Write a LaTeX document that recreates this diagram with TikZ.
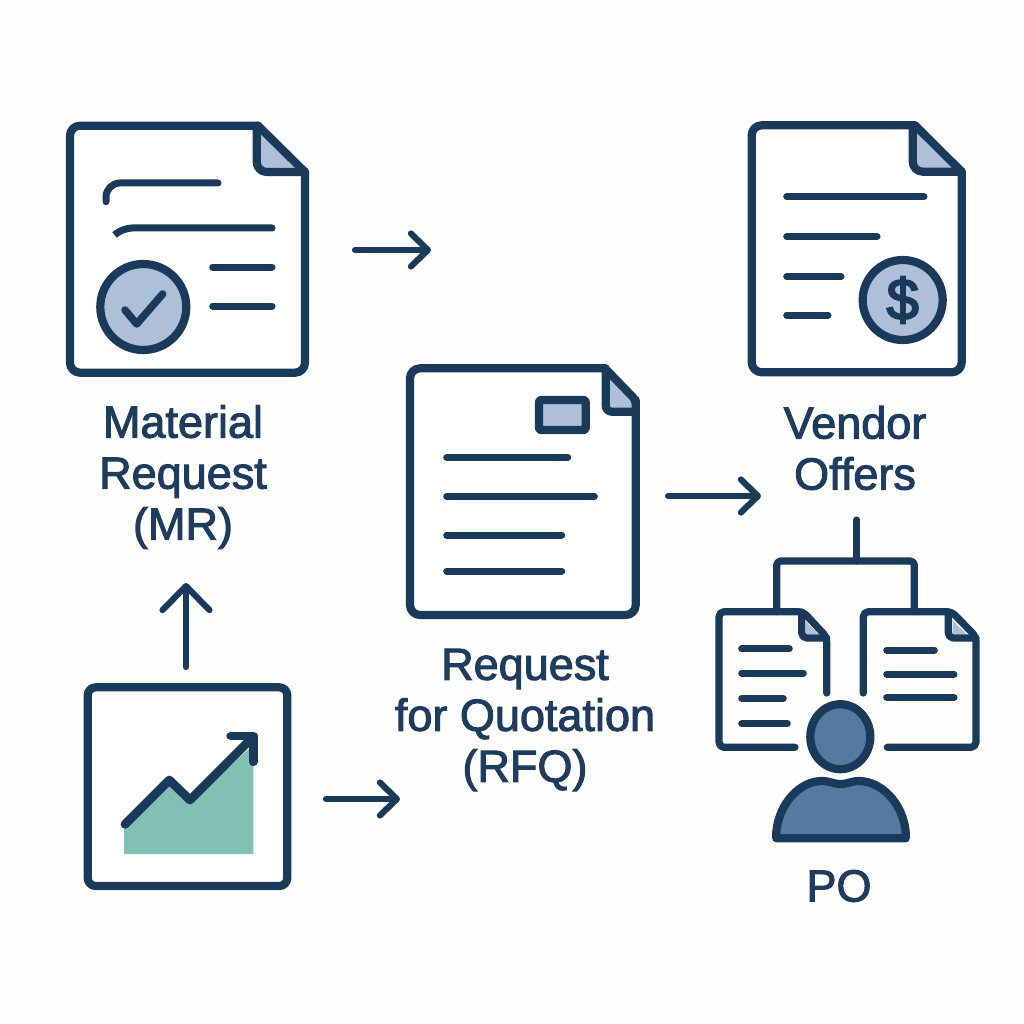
\documentclass[tikz,border=0pt]{standalone}
\usepackage{fontspec}
\setmainfont[FakeBold=2.2]{Liberation Sans}
\newfontfamily\dollarfont[FakeBold=3.5]{Liberation Sans}
\usetikzlibrary{arrows.meta}
\definecolor{ink}{HTML}{1A3A5C}
\definecolor{txt}{HTML}{1D3C60}
\definecolor{pale}{HTML}{AEC0D8}
\definecolor{teal}{HTML}{83C0B4}
\definecolor{slate}{HTML}{557A9F}
\definecolor{paper}{HTML}{FEFEFC}
\tikzset{
  x=1pt,y=-1pt,
  outline/.style={draw=ink,line width=8.2pt,line join=round,line cap=round},
  rule/.style={draw=ink,line width=7pt,line cap=round},
  thin outline/.style={draw=ink,line width=7.2pt,line join=round,line cap=round},
  flow/.style={draw=ink,line width=6.2pt,line cap=round},
  small tip/.style={-{Straight Barb[length=17pt,width=33pt,line cap=round,round,line width=6.2pt]}},
  large tip/.style={-{Straight Barb[length=24pt,width=47pt,line cap=round,round,line width=6.2pt]}},
  label/.style={text=txt,align=center,font=\fontsize{45}{51}\selectfont},
}
\begin{document}
\begin{tikzpicture}
\useasboundingbox (0,0) rectangle (1024,1024);
\fill[paper] (0,0) rectangle (1024,1024);

% Material Request document
\path[fill=white,outline,rounded corners=10pt] (258,125.7) -- (70,125.7) -- (70,372.7) -- (305,372.7) -- (305,172);
\path[fill=pale] (258,125.7) -- (305,172) -- (258,172) -- cycle;
\draw[outline] (258,125.7) -- (305,172);
\draw[outline,rounded corners=10pt] (305,172) -- (256.7,172) -- (256.7,125.7);
\draw[rule,rounded corners=14pt] (106,201.7) -- (106,183) -- (218,183);
\draw[rule,rounded corners=10pt] (116.7,233) -- (122,228) -- (272,228);
\draw[rule] (212.7,267) -- (272,267);
\draw[rule] (212.7,306) -- (272,306);
\path[fill=pale,outline] (143.3,307) circle[radius=43];
\draw[rule,line join=round,line width=7.5pt] (125,310) -- (136.7,324) -- (162.7,294);

% Vendor Offers document
\path[fill=white,outline,rounded corners=10pt] (915,125.3) -- (751.7,125.3) -- (751.7,372.3) -- (961.7,372.3) -- (961.7,171.7);
\path[fill=pale] (915,125.3) -- (961.7,171.7) -- (912.7,171.7) -- (912.7,125.3) -- cycle;
\draw[outline] (915,125.3) -- (961.7,171.7);
\draw[outline,rounded corners=10pt] (961.7,171.7) -- (912.7,171.7) -- (912.7,125.3);
\draw[rule] (786.7,196.7) -- (924,196.7);
\draw[rule] (786.7,236.7) -- (877,236.7);
\draw[rule] (786.7,276.7) -- (841,276.7);
\draw[rule] (786.7,315) -- (828,315);
\path[fill=pale,outline] (902.7,300) circle[radius=40];
\node[text=ink,font=\dollarfont\fontsize{58}{58}\selectfont] (dollar) at (902.7,300) {\$};

% RFQ document
\path[fill=white,outline,rounded corners=10pt] (605,368.3) -- (410,368.3) -- (410,615) -- (635.7,615) -- (635.7,400);
\path[fill=pale] (605.7,368.3) -- (635.7,400) -- (635.7,411.7) -- (605.7,411.7) -- cycle;
\draw[outline,rounded corners=4pt] (605,368.3) -- (635.7,400) -- (635.7,411.7);
\draw[outline,rounded corners=6pt] (635.7,411.7) -- (605.7,411.7) -- (605.7,368.3);
\path[fill=pale,outline,rounded corners=2pt] (539,400) rectangle (585.7,430);
\draw[rule] (446.7,457.3) -- (567.7,457.3);
\draw[rule] (446.7,496.3) -- (594.3,496.3);
\draw[rule] (446.7,535) -- (561.7,535);
\draw[rule] (446.7,571) -- (561.7,571);

% Chart panel
\path[fill=white,outline,rounded corners=8pt] (87.7,687.3) rectangle (287.3,886);
\path[fill=teal,rounded corners=1pt] (124,826.7) -- (169.3,783.3) -- (190,801.7) -- (253.3,745) -- (253.3,854) -- (124,854) -- cycle;
\draw[outline,line width=8.8pt] (125,824.3) -- (169.3,780) -- (190,800) -- (251.7,738.3);
\draw[outline,line width=8.8pt] (230.7,736) -- (253.3,736) -- (253.3,761.7);

% Bracket above the small documents
\draw[thin outline] (856.7,520) -- (856.7,561);
\draw[thin outline,rounded corners=4pt] (776.7,611.7) -- (776.7,561) -- (914.3,561) -- (914.3,611.7);

% Small left document
\path[fill=pale] (806,621.7) -- (818,634) -- (806,634) -- cycle;
\draw[thin outline,rounded corners=5pt] (826.7,693) -- (826.7,637) -- (803,611.7) -- (719,611.7) -- (719,747.3) -- (795,747.3);
\draw[thin outline,rounded corners=5pt] (826.7,638) -- (801.7,638) -- (801.7,612);
\draw[rule] (741.7,648.7) -- (789.3,648.7);
\draw[rule] (741.7,673) -- (803.3,673);
\draw[rule] (741.7,698.3) -- (783.3,698.3);
\draw[rule] (741.7,723.7) -- (787.3,723.7);

% Small right document
\path[fill=pale] (952.7,620.7) -- (966.7,634.3) -- (952.7,634.3) -- cycle;
\draw[thin outline,rounded corners=5pt] (863.3,693) -- (863.3,611.7) -- (951.7,611.7) -- (976,636.7) -- (976,747.3) -- (887.3,747.3);
\draw[thin outline,rounded corners=5pt] (976,638) -- (948.3,638) -- (948.3,612);
\draw[rule] (886.7,650) -- (934.3,650);
\draw[rule] (886.7,674) -- (954,674);
\draw[rule] (886.7,697.7) -- (954,697.7);

% Person
\path[fill=slate,outline] (840.3,736.7) ellipse[x radius=30,y radius=32.5];
\path[fill=slate,outline] (781,838.3) -- (776.3,838.3) -- (776.3,832)
  .. controls (779,803) and (800,781) .. (822,781)
  .. controls (830,781) and (833,784) .. (840.5,784)
  .. controls (848,784) and (851,781) .. (859,781)
  .. controls (881,781) and (903,803) .. (905.7,832)
  -- (905.7,838.3) -- cycle;

% Flow arrows
\coordinate (a1s) at (355,250);
\coordinate (a1e) at (431,250);
\coordinate (a2s) at (668,496);
\coordinate (a2e) at (761,496);
\coordinate (a3s) at (186,667);
\coordinate (a3e) at (186,583);
\coordinate (a4s) at (326,799);
\coordinate (a4e) at (400,799);
\draw[flow,small tip] (a1s) -- (a1e);
\draw[flow,small tip] (a2s) -- (a2e);
\draw[flow,large tip] (a3s) -- (a3e);
\draw[flow,small tip] (a4s) -- (a4e);

% Labels
\node[label] (mr) at (183,477) {Material\\Request\\(MR)};
\node[label] (vo) at (855,448) {Vendor\\Offers};
\node[label] (rfq) at (525,720) {Request\\for Quotation\\(RFQ)};
\node[label] (po) at (839,886) {PO};
\end{tikzpicture}
\end{document}
